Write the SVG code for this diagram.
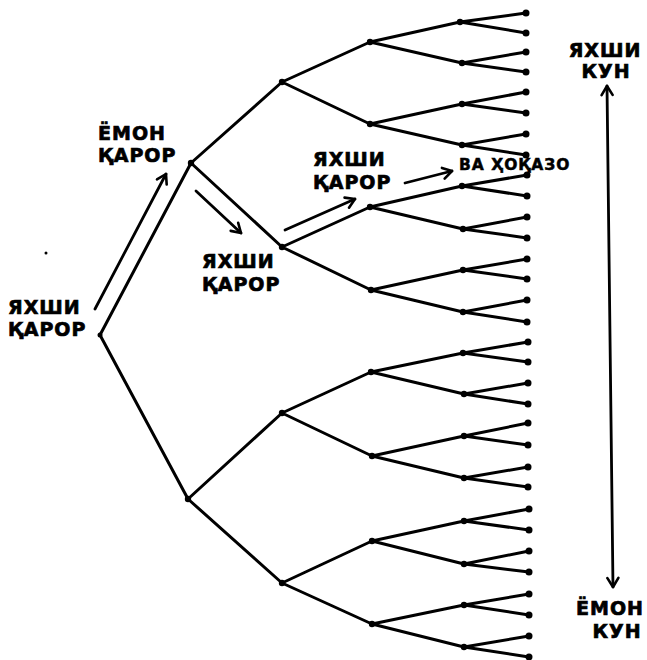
<svg xmlns="http://www.w3.org/2000/svg" width="647" height="660" viewBox="0 0 647 660">
<style>
.e{stroke:#000;stroke-width:3;fill:none;stroke-linecap:round}
.a{stroke:#000;stroke-width:2.8;fill:none;stroke-linecap:round}
.n{fill:#000}
.t{font-family:"DejaVu Sans",sans-serif;font-weight:bold;font-size:19px;letter-spacing:1px;fill:#000;stroke:#000;stroke-width:0.7px}
.s{font-size:15.5px;letter-spacing:1px;stroke-width:0.5px}
</style>
<defs>
<marker id="ah" viewBox="0 0 14 14" refX="12" refY="7" markerWidth="14" markerHeight="14" markerUnits="userSpaceOnUse" orient="auto-start-reverse">
<path d="M3,1.5 L12,7 L3,12.5" fill="none" stroke="#000" stroke-width="2.6" stroke-linecap="round" stroke-linejoin="round"/>
</marker>
</defs>
<rect width="647" height="660" fill="#fff"/>
<g id="connectors">
<path class="e" d="M100,335L191,163M100,335L188,499
M191,163L282,82M191,163L282,247M188,499L282,413M188,499L282,583
M282,82L370,42M282,82L370,124M282,247L370,207M282,247L371,290M282,413L371,372M282,413L372,456M282,583L372,541M282,583L372,624
M370,42L460,22M370,42L462,63M370,124L462,104M370,124L462,145M370,207L462,186M370,207L463,229M371,290L463,270M371,290L463,312
M371,372L463,353M371,372L464,394M372,456L464,436M372,456L464,478M372,541L464,521M372,541L464,564M372,624L464,605M372,624L464,647
M460,22L526,13M460,22L526,33M462,63L526,52M462,63L526,72M462,104L526,92M462,104L526,113M462,145L526,134M462,145L526,155
M462,186L527,175M462,186L527,196M463,229L527,217M463,229L527,238M463,270L527,259M463,270L527,279M463,312L527,300M463,312L527,322
M463,353L528,342M463,353L528,362M464,394L528,383M464,394L528,404M464,436L528,423M464,436L528,445M464,478L528,467M464,478L528,487
M464,521L529,509M464,521L529,530M464,564L529,551M464,564L529,572M464,605L529,594M464,605L529,615M464,647L529,636M464,647L529,657"/>
<line class="a" x1="95" y1="309" x2="166" y2="174" marker-end="url(#ah)"/>
<line class="a" x1="196" y1="191" x2="241" y2="233" marker-end="url(#ah)"/>
<line class="a" x1="285" y1="230" x2="355" y2="199" marker-end="url(#ah)"/>
<line class="a" x1="405" y1="183" x2="452" y2="171" marker-end="url(#ah)"/>
<line class="a" x1="607" y1="86" x2="613" y2="587" marker-start="url(#ah)" marker-end="url(#ah)"/>
</g>
<g id="root"><circle class="n" cx="100" cy="335" r="2.5"/></g>
<g id="n1a"><circle class="n" cx="191" cy="163" r="3.2"/></g>
<g id="n1b"><circle class="n" cx="188" cy="499" r="3.2"/></g>
<g id="n2"><circle class="n" cx="282" cy="82" r="3.2"/><circle class="n" cx="282" cy="247" r="3.2"/><circle class="n" cx="282" cy="413" r="3.2"/><circle class="n" cx="282" cy="583" r="3.2"/></g>
<g id="n3"><circle class="n" cx="370" cy="42" r="3.2"/><circle class="n" cx="370" cy="124" r="3.2"/><circle class="n" cx="370" cy="207" r="3.2"/><circle class="n" cx="371" cy="290" r="3.2"/><circle class="n" cx="371" cy="372" r="3.2"/><circle class="n" cx="372" cy="456" r="3.2"/><circle class="n" cx="372" cy="541" r="3.2"/><circle class="n" cx="372" cy="624" r="3.2"/></g>
<g id="n4"><circle class="n" cx="460" cy="22" r="3.2"/><circle class="n" cx="462" cy="63" r="3.2"/><circle class="n" cx="462" cy="104" r="3.2"/><circle class="n" cx="462" cy="145" r="3.2"/><circle class="n" cx="462" cy="186" r="3.2"/><circle class="n" cx="463" cy="229" r="3.2"/><circle class="n" cx="463" cy="270" r="3.2"/><circle class="n" cx="463" cy="312" r="3.2"/><circle class="n" cx="463" cy="353" r="3.2"/><circle class="n" cx="464" cy="394" r="3.2"/><circle class="n" cx="464" cy="436" r="3.2"/><circle class="n" cx="464" cy="478" r="3.2"/><circle class="n" cx="464" cy="521" r="3.2"/><circle class="n" cx="464" cy="564" r="3.2"/><circle class="n" cx="464" cy="605" r="3.2"/><circle class="n" cx="464" cy="647" r="3.2"/></g>
<g id="leaves">
<circle class="n" cx="526" cy="13" r="3.5"/><circle class="n" cx="526" cy="33" r="3.5"/><circle class="n" cx="526" cy="52" r="3.5"/><circle class="n" cx="526" cy="72" r="3.5"/><circle class="n" cx="526" cy="92" r="3.5"/><circle class="n" cx="526" cy="113" r="3.5"/><circle class="n" cx="526" cy="134" r="3.5"/><circle class="n" cx="526" cy="155" r="3.5"/>
<circle class="n" cx="527" cy="175" r="3.5"/><circle class="n" cx="527" cy="196" r="3.5"/><circle class="n" cx="527" cy="217" r="3.5"/><circle class="n" cx="527" cy="238" r="3.5"/><circle class="n" cx="527" cy="259" r="3.5"/><circle class="n" cx="527" cy="279" r="3.5"/><circle class="n" cx="527" cy="300" r="3.5"/><circle class="n" cx="527" cy="322" r="3.5"/>
<circle class="n" cx="528" cy="342" r="3.5"/><circle class="n" cx="528" cy="362" r="3.5"/><circle class="n" cx="528" cy="383" r="3.5"/><circle class="n" cx="528" cy="404" r="3.5"/><circle class="n" cx="528" cy="423" r="3.5"/><circle class="n" cx="528" cy="445" r="3.5"/><circle class="n" cx="528" cy="467" r="3.5"/><circle class="n" cx="528" cy="487" r="3.5"/>
<circle class="n" cx="529" cy="509" r="3.5"/><circle class="n" cx="529" cy="530" r="3.5"/><circle class="n" cx="529" cy="551" r="3.5"/><circle class="n" cx="529" cy="572" r="3.5"/><circle class="n" cx="529" cy="594" r="3.5"/><circle class="n" cx="529" cy="615" r="3.5"/><circle class="n" cx="529" cy="636" r="3.5"/><circle class="n" cx="529" cy="657" r="3.5"/>
</g>
<circle class="n" cx="46" cy="253" r="1.5"/>
<g id="labels">
<text class="t" x="8" y="314">ЯХШИ</text>
<text class="t" x="8" y="336">ҚАРОР</text>
<text class="t" x="98" y="140">ЁМОН</text>
<text class="t" x="98" y="162">ҚАРОР</text>
<text class="t" x="202" y="268">ЯХШИ</text>
<text class="t" x="202" y="291">ҚАРОР</text>
<text class="t" x="313" y="166">ЯХШИ</text>
<text class="t" x="313" y="189">ҚАРОР</text>
<text class="t s" x="459" y="170">ВА ҲОҚАЗО</text>
<text class="t" x="605" y="57" text-anchor="middle">ЯХШИ</text>
<text class="t" x="606" y="78" text-anchor="middle">КУН</text>
<text class="t" x="610" y="615" text-anchor="middle">ЁМОН</text>
<text class="t" x="617" y="638" text-anchor="middle">КУН</text>
</g>
</svg>
